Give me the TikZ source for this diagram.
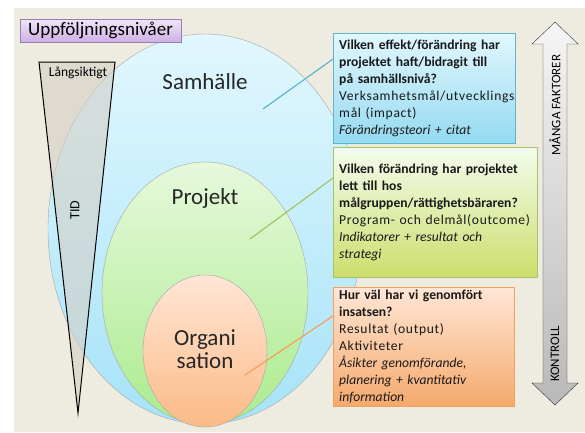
\documentclass[tikz,border=0pt]{standalone}
\usepackage{fontspec}
\setmainfont{Carlito}
\newfontfamily\widefont[LetterSpace=5]{Carlito}
\usetikzlibrary{shapes.geometric,shadows}

\definecolor{bgbeige}{HTML}{EEEBE1}
\definecolor{tidgray}{HTML}{D4CFC6}
\definecolor{samtop}{HTML}{E2F7FE}
\definecolor{sambot}{HTML}{A6E3F8}
\definecolor{projtop}{HTML}{E6F9DC}
\definecolor{projbot}{HTML}{ABEB8E}
\definecolor{orgtop}{HTML}{FFE6D6}
\definecolor{orgbot}{HTML}{FBBA86}
\definecolor{blueline}{HTML}{5FB5CB}
\definecolor{greenline}{HTML}{A5C466}
\definecolor{orangeline}{HTML}{F4A05C}
\definecolor{boxblue}{HTML}{94DAF1}
\definecolor{lavtop}{HTML}{F0E6F8}
\definecolor{lavbot}{HTML}{CDB0E4}
\definecolor{lavline}{HTML}{9A7DB8}

% regular lines in the boxes run a little wider
\newcommand{\reg}[1]{{\widefont #1}}

\tikzset{
  lvl/.style={font=\fontsize{23}{25}\selectfont, text=black!85, align=center},
  ring/.style={ellipse, draw=gray!70, thin, inner sep=0pt},
  infobox/.style={anchor=north west, text width=170pt, inner xsep=6pt, inner ysep=3pt,
    align=left, font=\fontsize{13.6}{17}\selectfont, text=black!90,
    drop shadow={opacity=0.25, shadow xshift=1pt, shadow yshift=-1pt}},
  pointer/.style={line width=1.2pt},
  sidetext/.style={rotate=90, font=\fontsize{13}{14}\selectfont}
}

\begin{document}
\begin{tikzpicture}[x=1pt, y=-1pt]
    % background
    \useasboundingbox (0,0) rectangle (585,432);
    \fill[bgbeige] (14,8) rectangle (585,432);

    % levels
    \node[ring, minimum width=314pt, minimum height=390pt, top color=samtop, bottom color=sambot] (samhalle) at (205,229) {};
    \node[ring, minimum width=206pt, minimum height=262pt, top color=projtop, bottom color=projbot] (projekt) at (205,293) {};
    \node[ring, minimum width=124pt, minimum height=152pt, top color=orgtop, bottom color=orgbot] (organisation) at (205,351) {};

    \node[lvl] (samhalle-t) at (205,82) {Samhälle};
    \node[lvl] (projekt-t) at (205,198) {Projekt};
    \node[lvl, font=\fontsize{23}{23}\selectfont] (organisation-t) at (205,349) {Organi\\sation};

    % time wedge
    \draw[line width=1pt, fill=tidgray, fill opacity=0.6] (39,62) -- (115,62) -- (78,413) -- cycle;
    \node[font=\fontsize{13.5}{14}\selectfont] (langsiktigt) at (78,73) {Långsiktigt};
    \node[sidetext, font=\fontsize{14}{15}\selectfont] (tid) at (75,210) {TID};

    % title
    \node[draw=lavline, top color=lavtop, bottom color=lavbot, minimum width=161pt, minimum height=23pt,
      font=\fontsize{19}{20}\selectfont, inner sep=1pt,
      drop shadow={opacity=0.25, shadow xshift=1pt, shadow yshift=-1pt}] (titel) at (100.5,30.5) {Uppföljningsnivåer};

    % question boxes
    \node[infobox, draw=blueline, top color=samtop, bottom color=boxblue, minimum height=110pt] (fraga1) at (333,33)
      {\textbf{Vilken effekt/förändring har}\\\textbf{projektet haft/bidragit till}\\\textbf{på samhällsnivå?}\\\reg{Verksamhetsmål/utvecklings}\\\reg{mål (impact)}\\\textit{Förändringsteori + citat}};
    \node[infobox, draw=greenline, top color=projtop!50!white, bottom color=greenline!70!yellow!80!white, text width=192pt, minimum height=130pt] (fraga2) at (333,147)
      {\textbf{Vilken förändring har projektet}\\\textbf{lett till hos}\\\textbf{målgruppen/rättighetsbäraren?}\\\reg{Program- och delmål(outcome)}\\\textit{Indikatorer + resultat och}\\\textit{strategi}};
    \node[infobox, draw=orangeline, top color=orgtop, bottom color=orangeline!90, text width=169pt, minimum height=118pt] (fraga3) at (333,287)
      {\textbf{Hur väl har vi genomfört}\\\textbf{insatsen?}\\\reg{Resultat (output)}\\\reg{Aktiviteter}\\\textit{Åsikter genomförande,}\\\textit{planering + kvantitativ}\\\textit{information}};

    % pointers
    \coordinate (p1) at (263,109);
    \coordinate (p2) at (250,239);
    \coordinate (p3) at (245,375);
    \draw[pointer, blueline] (p1) -- ([yshift=-26pt]fraga1.north west);
    \draw[pointer, greenline] (p2) -- ([yshift=-31pt]fraga2.north west);
    \draw[pointer, orangeline] (p3) -- ([yshift=-29pt]fraga3.north west);

    % control arrow
    \draw[gray!40!black, top color=gray!8, bottom color=gray!55]
      (555,22) -- (578,44) -- (567,44) -- (567,383) -- (578,383) -- (555,405)
      -- (532,383) -- (543,383) -- (543,44) -- (532,44) -- cycle;
    \node[sidetext] (manga) at (555,105) {MÅNGA FAKTORER};
    \node[sidetext] (kontroll) at (555,354) {KONTROLL};
\end{tikzpicture}
\end{document}
